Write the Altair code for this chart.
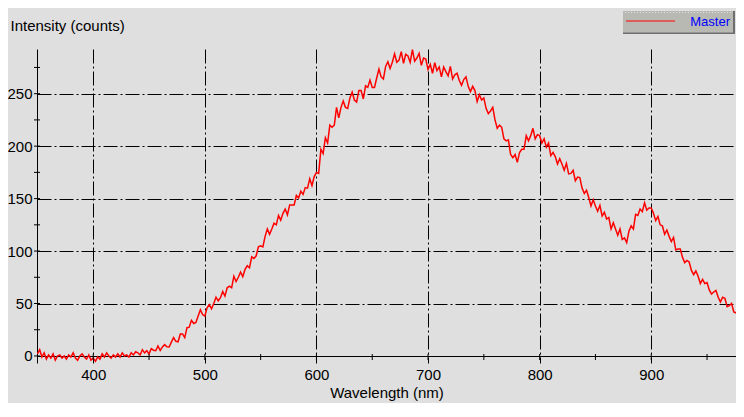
import altair as alt
import pandas as pd

# ---- data ----
WL_START = 350   # nm, first sample
WL_STEP = 2      # nm between samples

intensity = [
    # 350 - 438
    2, 6, -1, 3, -3, 1, -2, 2, -4, 0,
    1, -2, 0, -3, 1, -1, 3, -2, -4, 0,
    2, -1, -3, 1, -4, -2, -5, -1, -3, 2,
    -1, 3, 0, -2, 1, -1, 2, -1, 3, 0,
    1, -1, 3, 1, 4,
    # 440 - 598
    3, 1, 6, 3, 5, 2, 7, 5.5, 5, 9.5,
    5.2, 8.6, 10.8, 8.8, 8.6, 13.2, 17.5, 14, 13.5, 21,
    21, 17.5, 27, 27.5, 34, 31, 32, 38, 44, 39.5,
    38, 46, 49, 45, 50, 56, 52.5, 55.5, 61.5, 57,
    65, 66.5, 65, 76, 71, 75, 80, 75.5, 82.5, 86,
    84, 94.5, 93, 95.5, 104, 105, 104, 114, 121, 116,
    121, 126.5, 125, 134, 129.5, 136, 140, 134.5, 144, 144,
    144, 153, 150.5, 157, 154, 160.5, 160, 169, 162.5, 171,
    # 600 - 700
    175, 174, 197, 193, 208, 203, 220, 218, 220, 237,
    227, 237, 243, 237, 236, 246, 251.5, 244, 242, 253,
    253, 245, 257.5, 256, 263, 256, 256, 265, 273.5, 266,
    264, 276, 280.5, 274, 280, 288, 280, 282, 290, 279,
    287.5, 286, 280, 292, 281, 284, 288.5, 277, 284, 283,
    273,
    # 702 - 800
    278, 269.5, 279.5, 272, 275.5, 266, 275.5, 271, 267, 276,
    264, 268, 269.5, 262.5, 258, 263.5, 266, 257, 252, 257,
    253, 242.5, 249, 244, 246, 236, 231, 233.5, 237, 225,
    217, 220, 218, 207, 205, 206, 192, 189, 192, 184.5,
    194, 197, 197, 210, 205, 210, 217, 207, 211, 210,
    # 802 - 900
    203, 207, 199, 203, 191, 194, 190, 183, 188, 183,
    177, 183.5, 173.5, 174, 177, 167, 170.5, 170, 160, 155,
    158, 151, 143, 149, 143, 138, 143.5, 133.5, 137, 130.5,
    132, 121, 127, 121, 115, 121, 111, 112.5, 108, 119,
    124, 121, 135, 134, 140, 137.5, 146, 139, 141, 141,
    # 902 - 982
    136, 129, 133, 125, 124, 116, 120, 114, 109, 113,
    101, 102, 102, 94, 89, 91, 89.5, 81.5, 77.5, 81,
    76, 69, 73, 69, 70, 63, 59, 61, 62.5, 56,
    51.5, 56, 55, 47, 48, 50, 42, 41, 44, 35,
    39,
]
wavelength = [WL_START + WL_STEP * i for i in range(len(intensity))]

x_label_values = [400, 500, 600, 700, 800, 900]
x_tick_values = [400, 450, 500, 550, 600, 650, 700, 750, 800, 850, 900, 950]
y_label_values = [0, 50, 100, 150, 200, 250]
y_tick_values = [0, 25, 50, 75, 100, 125, 150, 175, 200, 225, 250, 275]
series_name = ["Master"]

X_DOMAIN = [349.6, 975.95]
Y_DOMAIN = [-6.7, 292.6]

FONT = "Liberation Sans"
DASH = [14, 3, 2, 3]

spectrum = pd.DataFrame({"wl": wavelength, "counts": intensity})
xt = pd.DataFrame({"wl": x_tick_values})
yt = pd.DataFrame({"counts": y_tick_values})
leg = pd.DataFrame({"label": series_name})

xscale = alt.Scale(domain=X_DOMAIN, nice=False, zero=False)
yscale = alt.Scale(domain=Y_DOMAIN, nice=False, zero=False)

xaxis = alt.Axis(values=x_label_values, title="Wavelength (nm)", offset=-7,
                 ticks=False, tickSize=0, labelPadding=11, grid=True,
                 gridDash=DASH, gridColor="#000000", gridOpacity=1, gridWidth=1,
                 domainColor="#000000", domainWidth=1,
                 labelFont=FONT, labelFontSize=15, labelColor="#000000",
                 titleFont=FONT, titleFontSize=15, titleFontWeight="normal",
                 titleColor="#000000", titleY=41, titleBaseline="alphabetic")
yaxis = alt.Axis(values=y_label_values, title="Intensity (counts)",
                 ticks=False, tickSize=0, labelPadding=5, grid=True,
                 gridDash=DASH, gridColor="#000000", gridOpacity=1, gridWidth=1,
                 domainColor="#000000", domainWidth=1,
                 labelFont=FONT, labelFontSize=15, labelColor="#000000",
                 titleFont=FONT, titleFontSize=15, titleFontWeight="normal",
                 titleColor="#000000", titleAngle=0, titleAlign="left",
                 titleBaseline="alphabetic", titleX=-27, titleY=-19)

line = alt.Chart(spectrum).mark_line(color="#ff0000", strokeWidth=1.5, clip=True).encode(
    x=alt.X("wl:Q", scale=xscale, axis=xaxis),
    y=alt.Y("counts:Q", scale=yscale, axis=yaxis),
)

xticks = alt.Chart(xt).mark_rule(color="#000000", strokeWidth=1).encode(
    x=alt.X("wl:Q", scale=xscale, axis=xaxis),
    y=alt.value(305), y2=alt.value(311),
)
yticks = alt.Chart(yt).mark_rule(color="#000000", strokeWidth=1).encode(
    y=alt.Y("counts:Q", scale=yscale, axis=yaxis),
    x=alt.value(-3), x2=alt.value(3),
)

leg_shadow = alt.Chart(leg).mark_rect(color="#6e6e6e").encode(
    x=alt.value(586), x2=alt.value(698), y=alt.value(-38), y2=alt.value(-15))
leg_box = alt.Chart(leg).mark_rect(color="#b9b9b3").encode(
    x=alt.value(586), x2=alt.value(696), y=alt.value(-38), y2=alt.value(-16.5))
leg_top = alt.Chart(leg).mark_rule(color="#e2e2de", strokeDash=[1, 2], strokeWidth=1).encode(
    x=alt.value(588), x2=alt.value(694), y=alt.value(-36.5))
leg_line = alt.Chart(leg).mark_rule(color="#ff0000", strokeWidth=1).encode(
    x=alt.value(589), x2=alt.value(638), y=alt.value(-28))
leg_text = alt.Chart(leg).mark_text(align="right", baseline="middle", font=FONT,
                                     fontSize=13, color="#0000ff").encode(
    x=alt.value(693), y=alt.value(-27), text="label:N")

chart = alt.layer(line, xticks, yticks, leg_shadow, leg_box, leg_top, leg_line, leg_text).properties(
    width=699, height=314,
    autosize=alt.AutoSizeParams(type="none"),
    padding={"left": 29, "top": 41, "right": 0, "bottom": 40},
    background="#dfdfdf",
).configure_view(strokeWidth=0)

chart.save("out.html", embed_options={"renderer": "svg", "actions": False})
